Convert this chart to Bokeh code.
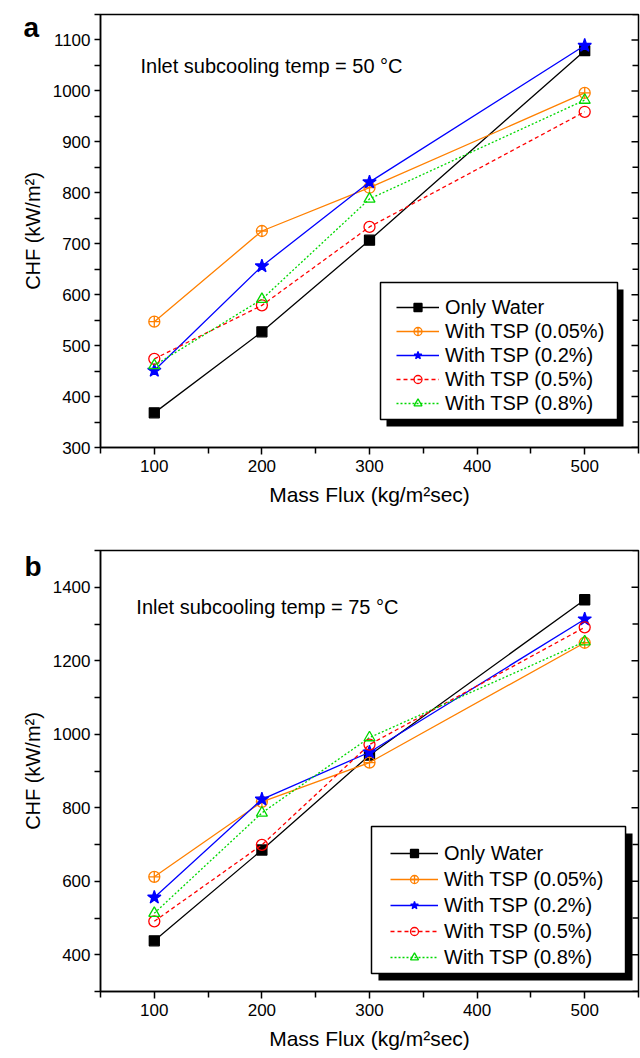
from bokeh.plotting import figure
from bokeh.models import (Legend, LegendItem, Label, BoxAnnotation, FixedTicker, Range1d)
from bokeh.layouts import column
from bokeh.embed import file_html
from bokeh.resources import INLINE

FONT = "Liberation Sans"

# ---------------- data ----------------
mass_flux = [100, 200, 300, 500]
series_names = ["Only Water", "With TSP (0.05%)", "With TSP (0.2%)",
                "With TSP (0.5%)", "With TSP (0.8%)"]

# panel a : inlet subcooling 50 C
chf50_water = [368, 527, 707, 1079]
chf50_tsp005 = [547, 725, 810, 996]
chf50_tsp02 = [451, 656, 821, 1089]
chf50_tsp05 = [474, 579, 733, 959]
chf50_tsp08 = [461, 591, 788, 982]

# panel b : inlet subcooling 75 C
chf75_water = [438, 685, 943, 1366]
chf75_tsp005 = [612, 816, 923, 1249]
chf75_tsp02 = [556, 823, 951, 1313]
chf75_tsp05 = [491, 699, 972, 1291]
chf75_tsp08 = [513, 786, 991, 1252]

x_major = [100, 200, 300, 400, 500]
x_minor = [50, 150, 250, 350, 450, 550]
ya_major = [300, 400, 500, 600, 700, 800, 900, 1000, 1100]
ya_minor = [350, 450, 550, 650, 750, 850, 950, 1050, 1150]
yb_major = [400, 600, 800, 1000, 1200, 1400]
yb_minor = [300, 500, 700, 900, 1100, 1300, 1500]

styles = [
    dict(color="black", dash="solid", marker="square", size=10, fill="black"),
    dict(color="#FF8000", dash="solid", marker="circle_cross", size=11, fill=None),
    dict(color="#0000FF", dash="solid", marker="star", size=14, fill="#0000FF"),
    dict(color="#FF0000", dash="4 3", marker="circle", size=11, fill=None),
    dict(color="#00D800", dash="2 2", marker="triangle", size=11, fill=None),
]


def make_panel(series, letter, note, yr, ymaj, ymin, fig_top, H, L, R, T, fh,
               box, shadow_off, leg, note_xy, letter_xy):
    W = 640
    B = H - T - fh
    fw = W - L - R
    x0, x1 = 50, 550
    y0, y1 = yr
    p = figure(width=W, height=H, x_range=Range1d(x0, x1), y_range=Range1d(y0, y1),
               output_backend="svg", toolbar_location=None,
               min_border_left=L, min_border_right=R, min_border_top=T,
               min_border_bottom=B)

    def dx(page_x):
        return x0 + (page_x - L) * (x1 - x0) / fw

    def dy(page_y):
        return y1 - (page_y - fig_top - T) * (y1 - y0) / fh

    def px_w(n):
        return n * (x1 - x0) / fw

    p.xgrid.visible = False
    p.ygrid.visible = False
    p.outline_line_color = "black"
    p.outline_line_width = 1.5
    p.background_fill_color = "white"
    p.border_fill_color = "white"

    for ax in (p.xaxis[0], p.yaxis[0]):
        ax.axis_line_width = 1.5
        ax.major_tick_line_width = 1.5
        ax.minor_tick_line_width = 1.5
        ax.major_tick_in = 0
        ax.minor_tick_in = 0
        ax.major_label_text_font = FONT
        ax.major_label_text_font_size = "17px"
        ax.major_label_text_color = "black"
        ax.axis_label_text_font = FONT
        ax.axis_label_text_font_size = "20px"
        ax.axis_label_text_font_style = "normal"
        ax.axis_label_text_color = "black"
    p.xaxis.major_tick_out = 7
    p.xaxis.minor_tick_out = 6
    p.xaxis.major_label_standoff = 5
    p.yaxis.major_tick_out = 6
    p.yaxis.minor_tick_out = 6
    p.yaxis.major_label_standoff = 4
    p.xaxis.ticker = FixedTicker(ticks=x_major, minor_ticks=x_minor)
    p.yaxis.ticker = FixedTicker(ticks=ymaj, minor_ticks=ymin)
    p.xaxis.axis_label = "Mass Flux (kg/m\u00b2sec)"
    p.yaxis.axis_label = "CHF (kW/m\u00b2)"
    p.xaxis.axis_label_text_font_size = "21px"
    p.xaxis.axis_label_standoff = 8
    p.yaxis.axis_label_standoff = 6

    # inward ticks on the right frame edge
    p.segment(x0=[x1] * len(ymaj), y0=ymaj, x1=[x1 - px_w(7)] * len(ymaj), y1=ymaj,
              line_color="black", line_width=1.5)
    p.segment(x0=[x1] * len(ymin), y0=ymin, x1=[x1 - px_w(6)] * len(ymin), y1=ymin,
              line_color="black", line_width=1.5)

    items = []
    for name, vals, st in zip(series_names, series, styles):
        lr = p.line(mass_flux, vals, line_color=st["color"], line_width=1.3,
                    line_dash=st["dash"])
        sr = p.scatter(mass_flux, vals, marker=st["marker"], size=st["size"],
                       line_color=st["color"], fill_color=st["fill"], line_width=1.3)
        items.append(LegendItem(label=name, renderers=[lr, sr]))

    # legend frame + drop shadow (page pixel rectangle), contents from Legend
    bl, bt, br, bb = box
    ox, oy = shadow_off
    p.add_layout(BoxAnnotation(left=dx(bl + ox), right=dx(br + ox),
                               top=dy(bt + oy), bottom=dy(bb + oy),
                               fill_color="black", fill_alpha=1.0, line_color=None))
    p.add_layout(BoxAnnotation(left=dx(bl), right=dx(br), top=dy(bt), bottom=dy(bb),
                               fill_color="white", fill_alpha=1.0,
                               line_color="black", line_width=1.5, line_alpha=1.0))
    lx, ly, pad, lab_h, gw, stand = leg
    legend = Legend(items=items, location=(lx, ly), margin=0, padding=pad,
                    spacing=0, label_height=lab_h, glyph_height=20, glyph_width=gw,
                    label_standoff=stand, label_text_font=FONT,
                    label_text_font_size="20px", label_text_color="black",
                    border_line_color=None, background_fill_alpha=0.0)
    p.add_layout(legend, "center")

    p.add_layout(Label(x=dx(note_xy[0]), y=dy(note_xy[1]), text=note,
                       text_font=FONT, text_font_size="20px",
                       text_color="black", text_baseline="alphabetic"))
    p.add_layout(Label(x=letter_xy[0], y=letter_xy[1] - fig_top, x_units="canvas",
                       y_units="canvas", text=letter,
                       text_font=FONT, text_font_size="28px",
                       text_font_style="bold", text_color="black",
                       text_baseline="alphabetic"), "left")
    return p


pa = make_panel([chf50_water, chf50_tsp005, chf50_tsp02, chf50_tsp05, chf50_tsp08],
                "a", "Inlet subcooling temp = 50 \u00b0C", (300, 1150),
                ya_major, ya_minor, fig_top=0, H=526, L=100, R=2, T=14, fh=433,
                box=(380, 282, 617, 419), shadow_off=(6, 7),
                leg=(296, 32, 6, 24, 43, 6),
                note_xy=(140, 65), letter_xy=(23, 27))
pb = make_panel([chf75_water, chf75_tsp005, chf75_tsp02, chf75_tsp05, chf75_tsp08],
                "b", "Inlet subcooling temp = 75 \u00b0C", (300, 1500),
                yb_major, yb_minor, fig_top=526, H=532, L=100, R=0, T=24, fh=441,
                box=(372, 826, 627, 973), shadow_off=(7, 7),
                leg=(290, 21, 4, 26, 48, 6),
                note_xy=(136, 606), letter_xy=(24, 566))

layout = column(pa, pb, spacing=0)
open("out.html", "w").write(file_html(layout, INLINE))
